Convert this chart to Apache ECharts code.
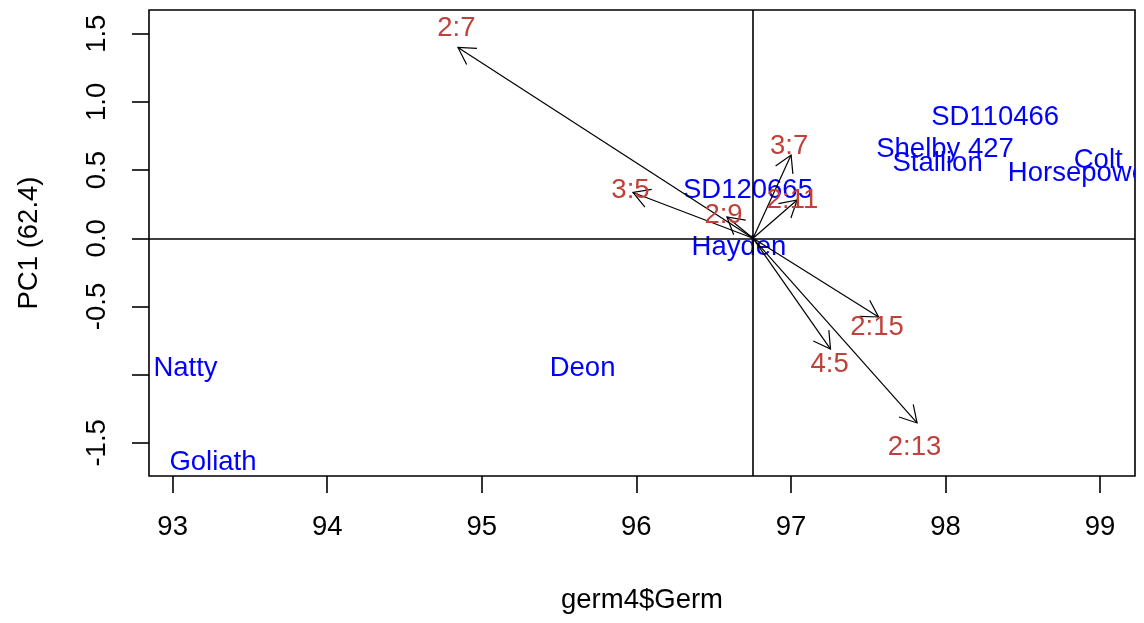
<!DOCTYPE html>
<html>
<head>
<meta charset="utf-8">
<script src="https://cdn.jsdelivr.net/npm/echarts@6/dist/echarts.min.js"></script>
<style>
  html, body { margin: 0; padding: 0; background: #fff; }
  #chart { width: 1144px; height: 623px; }
</style>
</head>
<body>
<div id="chart"></div>
<script>
// ---- data ----
const xTicks = [93, 94, 95, 96, 97, 98, 99];
const yTicks = [-1.5, -1.0, -0.5, 0.0, 0.5, 1.0, 1.5];
const yTickLabels = [-1.5, -0.5, 0.0, 0.5, 1.0, 1.5];   // -1.0 label dropped (overlap) as in reference
const xRange = [92.847, 99.226];
const yRange = [-1.743, 1.674];
const origin = [96.755, 0];

const genotypes = ['SD110466', 'Shelby 427', 'Stallion', 'Colt', 'Horsepower', 'SD120665', 'Hayden', 'Natty', 'Goliath', 'Deon'];
const genoX = [98.321, 97.997, 97.949, 98.988, 98.883, 96.722, 96.664, 93.083, 93.261, 95.652];
const genoY = [0.889, 0.655, 0.552, 0.574, 0.479, 0.354, -0.064, -0.951, -1.640, -0.951];

const traits = ['2:7', '3:5', '2:9', '3:7', '2:11', '2:15', '4:5', '2:13'];
const traitX = [94.846, 95.978, 96.586, 97.001, 97.040, 97.567, 97.256, 97.816];
const traitY = [1.399, 0.336, 0.156, 0.611, 0.281, -0.577, -0.812, -1.354];
const traitLabelX = [94.836, 95.962, 96.564, 96.988, 97.010, 97.557, 97.250, 97.800];
const traitLabelY = [1.538, 0.354, 0.171, 0.677, 0.281, -0.654, -0.922, -1.534];

// ---- chart ----
const FONT = "'Liberation Sans', Arial, sans-serif";
const FS = 27.5;
const chart = echarts.init(document.getElementById('chart'), null, { renderer: 'canvas' });

const genoData = genotypes.map((n, i) => [genoX[i], genoY[i], n]);
const arrowData = traits.map((n, i) => [traitX[i], traitY[i], n]);
const traitLabelData = traits.map((n, i) => [traitLabelX[i], traitLabelY[i], n]);

function textItem(color) {
  return function (params, api) {
    const p = api.coord([api.value(0), api.value(1)]);
    return {
      type: 'text',
      x: p[0], y: p[1],
      style: {
        text: api.value(2),
        fill: color,
        font: FS + 'px ' + FONT,
        align: 'center',
        verticalAlign: 'middle'
      }
    };
  };
}

function arrowItem(params, api) {
  const o = api.coord(origin);
  const t = api.coord([api.value(0), api.value(1)]);
  const ang = Math.atan2(o[1] - t[1], o[0] - t[0]);
  const L = 19, a = Math.PI / 6;
  const h1 = [t[0] + L * Math.cos(ang + a), t[1] + L * Math.sin(ang + a)];
  const h2 = [t[0] + L * Math.cos(ang - a), t[1] + L * Math.sin(ang - a)];
  const st = { stroke: '#000', lineWidth: 1.2, fill: null };
  return {
    type: 'group',
    children: [
      { type: 'line', shape: { x1: o[0], y1: o[1], x2: t[0], y2: t[1] }, style: st },
      { type: 'polyline', shape: { points: [h1, t, h2] }, style: st }
    ]
  };
}

const option = {
  backgroundColor: '#fff',
  animation: false,
  grid: {
    left: 149, right: 9, top: 10, bottom: 147,
    show: true, borderColor: '#000', borderWidth: 1.6, backgroundColor: 'transparent'
  },
  xAxis: {
    type: 'value',
    position: 'bottom',
    min: xRange[0], max: xRange[1],
    name: 'germ4$Germ',
    nameLocation: 'middle',
    nameGap: 110,
    nameTextStyle: { color: '#000', fontSize: FS, fontFamily: FONT },
    axisLine: { show: false, onZero: false },
    splitLine: { show: false },
    axisTick: { show: true, length: 17, customValues: xTicks, lineStyle: { color: '#000', width: 1.6 } },
    axisLabel: {
      customValues: xTicks, margin: 37, color: '#000', fontSize: FS, fontFamily: FONT,
      formatter: v => String(Math.round(v))
    }
  },
  yAxis: {
    type: 'value',
    position: 'left',
    min: yRange[0], max: yRange[1],
    name: 'PC1 (62.4)',
    nameLocation: 'middle',
    nameGap: 106,
    nameRotate: 90,
    nameTextStyle: { color: '#000', fontSize: FS, fontFamily: FONT },
    axisLine: { show: false, onZero: false },
    splitLine: { show: false },
    axisTick: { show: true, length: 17, customValues: yTicks, lineStyle: { color: '#000', width: 1.6 } },
    axisLabel: {
      customValues: yTickLabels, margin: 38, rotate: 90, color: '#000', fontSize: FS, fontFamily: FONT,
      formatter: v => v.toFixed(1)
    }
  },
  series: [
    {
      type: 'custom',
      name: 'genotypes',
      clip: true,
      silent: true,
      data: genoData,
      encode: { x: 0, y: 1 },
      renderItem: textItem('#0000FF'),
      markLine: {
        silent: true,
        symbol: 'none',
        label: { show: false },
        lineStyle: { color: '#000', width: 1.6, type: 'solid' },
        data: [{ xAxis: origin[0] }, { yAxis: origin[1] }]
      },
      z: 2
    },
    {
      type: 'custom',
      name: 'arrows',
      clip: true,
      silent: true,
      data: arrowData,
      encode: { x: 0, y: 1 },
      renderItem: arrowItem,
      z: 3
    },
    {
      type: 'custom',
      name: 'traitLabels',
      clip: true,
      silent: true,
      data: traitLabelData,
      encode: { x: 0, y: 1 },
      renderItem: textItem('#C0413A'),
      z: 4
    }
  ]
};
chart.setOption(option);
</script>
</body>
</html>
